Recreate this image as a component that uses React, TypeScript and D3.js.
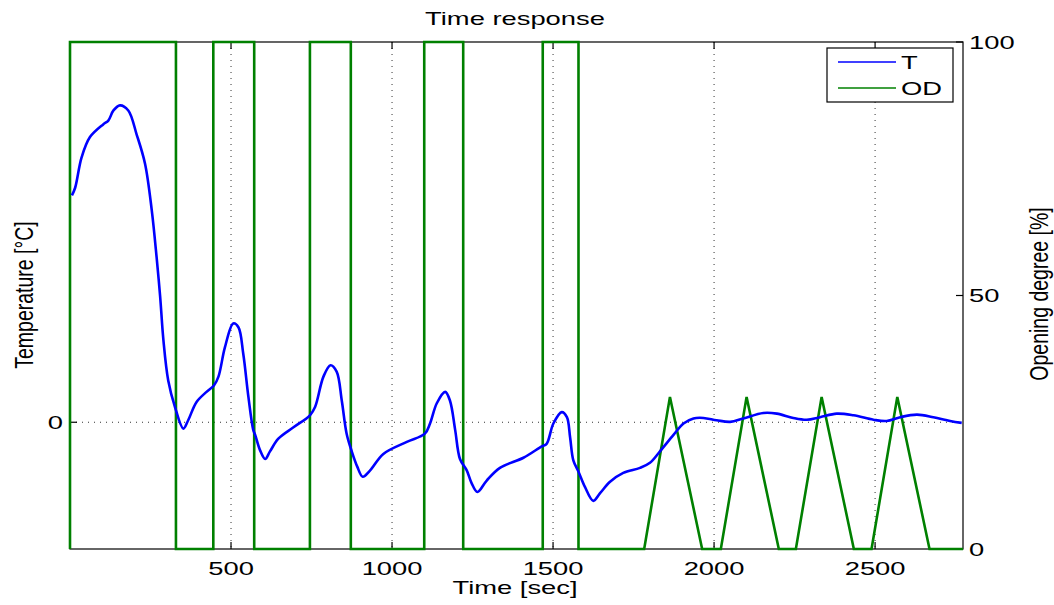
import React from 'react';
import * as d3 from 'd3';

// Temperature series (T), time in seconds, value in °C (relative)
const tTime = [6, 16, 36, 62, 103, 119, 135, 155, 181, 207, 233, 254, 269, 280, 290, 305, 326, 352, 367, 393, 424, 447, 461, 481, 507, 523, 538, 554, 569, 575, 590, 606, 621, 647, 694, 745, 761, 787, 809, 828, 844, 859, 875, 892, 909, 932, 973, 1046, 1102, 1118, 1139, 1165, 1180, 1196, 1211, 1232, 1247, 1265, 1294, 1335, 1408, 1465, 1480, 1501, 1527, 1543, 1553, 1563, 1579, 1599, 1625, 1646, 1677, 1718, 1770, 1801, 1832, 1874, 1905, 1936, 1967, 2008, 2050, 2091, 2153, 2195, 2246, 2288, 2329, 2381, 2433, 2495, 2536, 2578, 2630, 2681, 2733, 2769];
const tValue = [1.79, 1.85, 2.09, 2.25, 2.35, 2.38, 2.46, 2.5, 2.46, 2.27, 2.04, 1.67, 1.3, 0.99, 0.65, 0.33, 0.12, -0.05, 0.016, 0.16, 0.24, 0.29, 0.36, 0.59, 0.78, 0.75, 0.54, 0.2, -0.06, -0.1, -0.22, -0.29, -0.23, -0.13, -0.04, 0.055, 0.12, 0.36, 0.45, 0.4, 0.17, -0.09, -0.23, -0.35, -0.43, -0.38, -0.25, -0.155, -0.09, -0.01, 0.15, 0.24, 0.17, -0.06, -0.29, -0.38, -0.48, -0.55, -0.46, -0.36, -0.28, -0.19, -0.17, -0.01, 0.08, 0.04, -0.12, -0.3, -0.39, -0.51, -0.62, -0.56, -0.47, -0.4, -0.36, -0.32, -0.23, -0.1, -0.01, 0.03, 0.034, 0.016, 0.003, 0.03, 0.073, 0.068, 0.034, 0.02, 0.04, 0.068, 0.055, 0.02, 0.01, 0.04, 0.06, 0.04, 0.01, -0.005];

// Opening degree series (OD), percent
const odTime = [0, 0, 329, 329, 445, 445, 572, 572, 745, 745, 872, 872, 1100, 1100, 1221, 1221, 1468, 1468, 1579, 1579, 1783, 1863, 1963, 2021, 2101, 2201, 2254, 2334, 2434, 2489, 2569, 2669, 2773];
const odValue = [0, 100, 100, 0, 0, 100, 100, 0, 0, 100, 100, 0, 0, 100, 100, 0, 0, 100, 100, 0, 0, 30, 0, 0, 30, 0, 0, 30, 0, 0, 30, 0, 0];

const xTicks = [500, 1000, 1500, 2000, 2500];
const leftTicks = [0];
const rightTicks = [0, 50, 100];
const seriesNames = ['T', 'OD'];

const FONT = '"Liberation Sans", Arial, Helvetica, sans-serif';
const SX = 1.52;

export default function App() {
  const W = 1054, H = 605;
  const L = 70, R = 963, T = 42, B = 549;
  const x = d3.scaleLinear().domain([0, 2773]).range([L, R]);
  const yL = d3.scaleLinear().domain([-1, 3]).range([B, T]);
  const yR = d3.scaleLinear().domain([0, 100]).range([B, T]);

  const tPts = tTime.map((t, i) => [t, tValue[i]] as [number, number]);
  const odPts = odTime.map((t, i) => [t, odValue[i]] as [number, number]);
  const tLine = d3.line<[number, number]>().x(d => x(d[0])).y(d => yL(d[1])).curve(d3.curveCatmullRom.alpha(0.5));
  const odLine = d3.line<[number, number]>().x(d => x(d[0])).y(d => yR(d[1]));

  const blue = '#0000ff';
  const green = '#008000';
  const tick = 7;

  const HText = ({ x0, y0, anchor, size = 18, children }: any) => (
    <text transform={`translate(${x0},${y0}) scale(${SX},1)`} textAnchor={anchor} fontSize={size} fontFamily={FONT} fill="#000">{children}</text>
  );

  return (
    <div style={{ position: 'absolute', left: 0, top: 0 }}>
      <svg width={W} height={H} style={{ display: 'block', background: '#fff' }}>
        <rect x={0} y={0} width={W} height={H} fill="#fff" />
        {/* grid */}
        {xTicks.map(v => (
          <line key={'gx' + v} x1={x(v)} x2={x(v)} y1={T} y2={B} stroke="#333" strokeWidth={1} strokeDasharray="1,5" />
        ))}
        {leftTicks.map(v => (
          <line key={'gy' + v} x1={L} x2={R} y1={yL(v)} y2={yL(v)} stroke="#333" strokeWidth={1} strokeDasharray="1,5" />
        ))}
        {/* axes box */}
        <rect x={L} y={T} width={R - L} height={B - T} fill="none" stroke="#000" strokeWidth={1.2} />
        {xTicks.map(v => (
          <g key={'xt' + v}>
            <line x1={x(v)} x2={x(v)} y1={B} y2={B - tick} stroke="#000" strokeWidth={1.2} />
            <line x1={x(v)} x2={x(v)} y1={T} y2={T + tick} stroke="#000" strokeWidth={1.2} />
            <HText x0={x(v)} y0={575} anchor="middle">{v}</HText>
          </g>
        ))}
        {leftTicks.map(v => (
          <g key={'lt' + v}>
            <line x1={L} x2={L + tick} y1={yL(v)} y2={yL(v)} stroke="#000" strokeWidth={1.2} />
            <HText x0={63} y0={yL(v) + 7} anchor="end">{v}</HText>
          </g>
        ))}
        {rightTicks.map(v => (
          <g key={'rt' + v}>
            <line x1={R} x2={R - tick} y1={yR(v)} y2={yR(v)} stroke="#000" strokeWidth={1.2} />
            <HText x0={969} y0={yR(v) + 6.5} anchor="start">{v}</HText>
          </g>
        ))}
        {/* series */}
        <path d={odLine(odPts) || ''} fill="none" stroke={green} strokeWidth={2.6} strokeLinejoin="miter" />
        <path d={tLine(tPts) || ''} fill="none" stroke={blue} strokeWidth={2.6} strokeLinejoin="round" />
        {/* labels */}
        <HText x0={515} y0={25} anchor="middle" size={18}>Time response</HText>
        <HText x0={515} y0={594} anchor="middle">Time [sec]</HText>
        <text transform={`translate(33,295) scale(1.35,1) rotate(-90)`} textAnchor="middle" fontSize={19.5} fontFamily={FONT}>Temperature [°C]</text>
        <text transform={`translate(1048,294) scale(1.35,1) rotate(-90)`} textAnchor="middle" fontSize={19.5} fontFamily={FONT}>Opening degree [%]</text>
        {/* legend */}
        <rect x={827} y={48} width={126} height={54} fill="#fff" stroke="#000" strokeWidth={1.2} />
        {seriesNames.map((n, i) => (
          <g key={n}>
            <line x1={838} x2={896} y1={62 + i * 26} y2={62 + i * 26} stroke={i === 0 ? blue : green} strokeWidth={1.6} />
            <HText x0={901} y0={62 + i * 26 + 6.5} anchor="start">{n}</HText>
          </g>
        ))}
      </svg>
    </div>
  );
}
